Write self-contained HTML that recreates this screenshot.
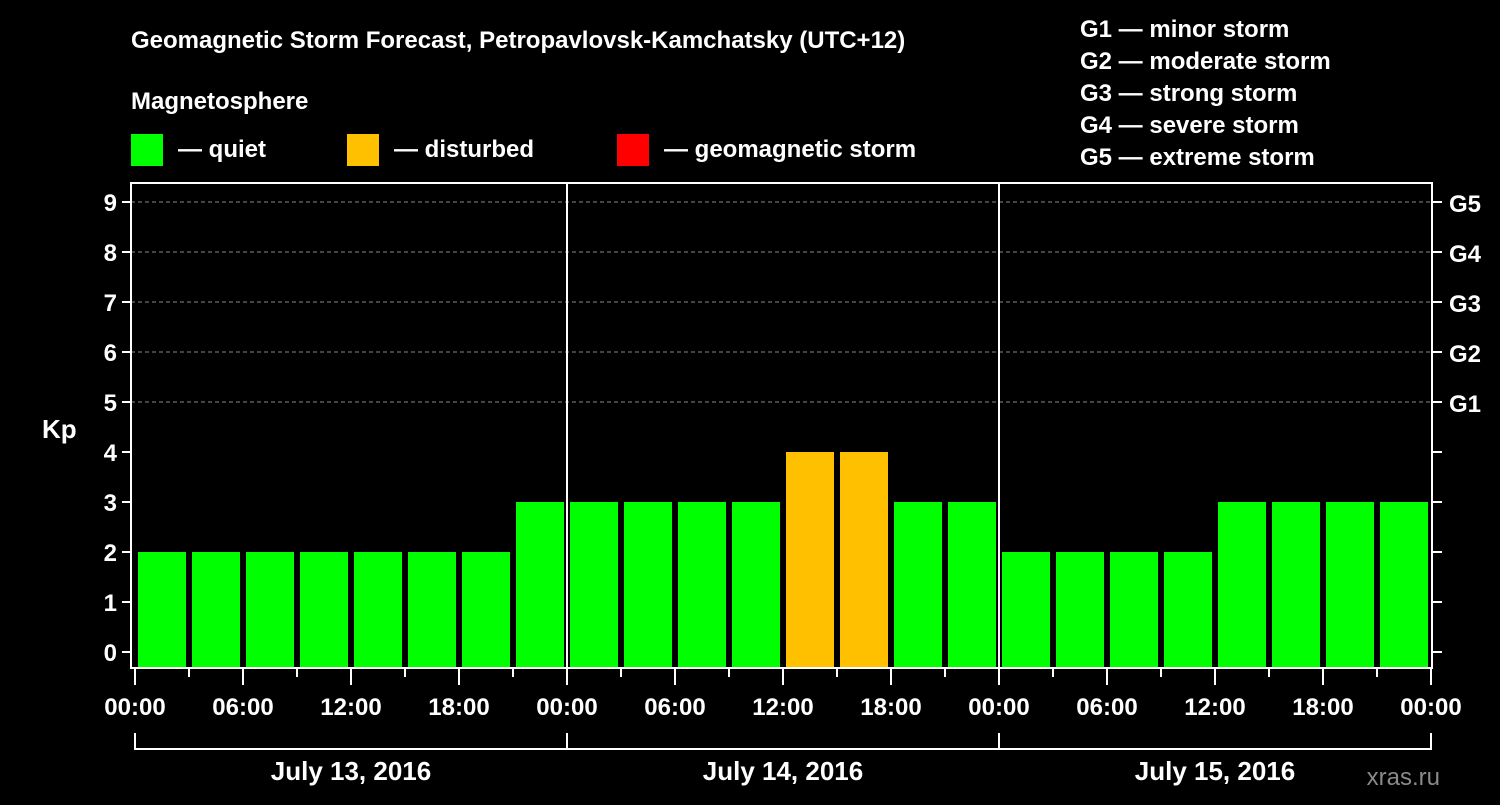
<!DOCTYPE html>
<html><head><meta charset="utf-8"><style>
body{margin:0;background:#000;width:1500px;height:800px;overflow:hidden}
svg text{font-family:"Liberation Sans",sans-serif;font-weight:bold;fill:#fff}
</style></head><body>
<svg id="c" width="1500" height="800">
<text x="131" y="48" font-size="24">Geomagnetic Storm Forecast, Petropavlovsk-Kamchatsky (UTC+12)</text>
<text x="131" y="109" font-size="24">Magnetosphere</text>
<g><rect x="131" y="134" width="32" height="32" fill="#00ff00"/><text x="178" y="157" font-size="24">— quiet</text></g>
<g><rect x="347" y="134" width="32" height="32" fill="#ffc000"/><text x="394" y="157" font-size="24">— disturbed</text></g>
<g><rect x="617" y="134" width="32" height="32" fill="#ff0000"/><text x="664" y="157" font-size="24">— geomagnetic storm</text></g>
<g font-size="24">
<text x="1080" y="37">G1 — minor storm</text><text x="1080" y="69">G2 — moderate storm</text><text x="1080" y="101">G3 — strong storm</text><text x="1080" y="133">G4 — severe storm</text><text x="1080" y="165">G5 — extreme storm</text></g>
<text x="42" y="438" font-size="26">Kp</text>
<text x="1440" y="785" font-size="24" text-anchor="end" fill="#888" style="fill:#8a8a8a;font-weight:normal">xras.ru</text>
<g id="grid"></g><g id="bars"></g><g id="axes"></g>
</svg>
<script>
const kpValues=[2,2,2,2,2,2,2,3, 3,3,3,3,4,4,3,3, 2,2,2,2,3,3,3,3];
const yTicks=[0,1,2,3,4,5,6,7,8,9];
const gLabels=["G1","G2","G3","G4","G5"];
const xLabels=["00:00","06:00","12:00","18:00","00:00","06:00","12:00","18:00","00:00","06:00","12:00","18:00","00:00"];
const dayLabels=["July 13, 2016","July 14, 2016","July 15, 2016"];
const NS="http://www.w3.org/2000/svg";
const X0=135,SLOT=54,L=131,R=1432,T=183,B=668;
const y=v=>652-v*50, x=i=>X0+i*SLOT;
function el(p,t,a){const e=document.createElementNS(NS,t);for(const k in a)e.setAttribute(k,a[k]);p.appendChild(e);return e;}
const grid=document.getElementById('grid'),bars=document.getElementById('bars'),axes=document.getElementById('axes');
yTicks.forEach(v=>{if(v>=5){const g=el(grid,'line',{x1:L,x2:R,y1:y(v),y2:y(v),stroke:'#888','stroke-dasharray':'4,3','stroke-width':1});

}
const t=el(axes,'line',{x1:L-9,x2:L,y1:y(v),y2:y(v),stroke:'#fff','stroke-width':2});


el(axes,'line',{x1:R,x2:R+10,y1:y(v),y2:y(v),stroke:'#fff','stroke-width':2});
const lb=el(axes,'text',{x:L-14,y:y(v)+9,'font-size':24,'text-anchor':'end'});lb.textContent=v;

});
gLabels.forEach((g,i)=>{const lb=el(axes,'text',{x:1449,y:y(i+5)+10,'font-size':24});lb.textContent=g;

});
kpValues.forEach((v,i)=>{const c=v>=5?'#ff0000':v>=4?'#ffc000':'#00ff00';
const r=el(bars,'rect',{x:x(i)+3,y:y(v),width:48,height:B-y(v),fill:c});

});
el(axes,'rect',{x:L,y:T,width:R-L,height:B-T,fill:'none',stroke:'#fff','stroke-width':2});
[1,2].forEach(d=>el(axes,'line',{x1:x(d*8),x2:x(d*8),y1:T,y2:B,stroke:'#fff','stroke-width':2}));
for(let i=0;i<=24;i++){const maj=i%2==0;el(axes,'line',{x1:x(i),x2:x(i),y1:B,y2:maj?685:677,stroke:'#fff','stroke-width':2});}
xLabels.forEach((s,i)=>{const lb=el(axes,'text',{x:x(i*2),y:715,'font-size':24,'text-anchor':'middle'});lb.textContent=s;

});
el(axes,'path',{d:`M${x(0)} 733V749H${x(24)}V733`,fill:'none',stroke:'#fff','stroke-width':2});
[1,2].forEach(d=>el(axes,'line',{x1:x(d*8),x2:x(d*8),y1:733,y2:749,stroke:'#fff','stroke-width':2}));
dayLabels.forEach((s,i)=>{const lb=el(axes,'text',{x:x(i*8+4),y:780,'font-size':26,'text-anchor':'middle'});lb.textContent=s;

});
</script>
</body></html>
